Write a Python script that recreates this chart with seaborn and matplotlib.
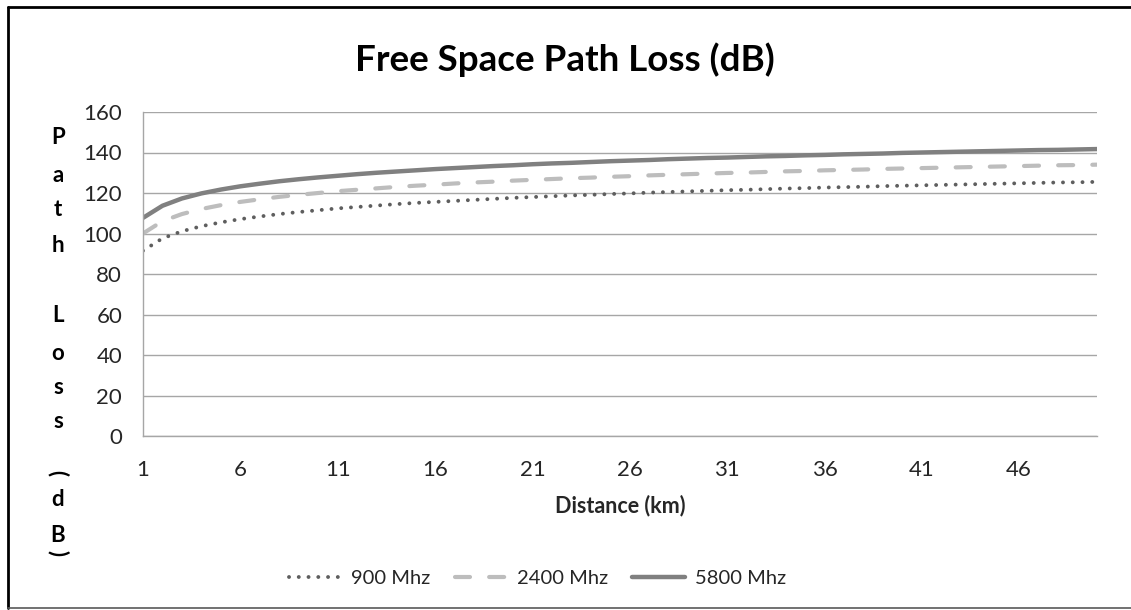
import pandas as pd
import matplotlib.pyplot as plt
import seaborn as sns
from matplotlib.lines import Line2D

# Dane (odleglosc w km, straty w dB)
distance_km = list(range(1, 51))
loss_900 = [91.5, 97.6, 101.1, 103.6, 105.5, 107.1, 108.4, 109.6, 110.6, 111.5,
            112.4, 113.1, 113.8, 114.5, 115.1, 115.6, 116.1, 116.6, 117.1, 117.6,
            118.0, 118.4, 118.8, 119.1, 119.5, 119.8, 120.2, 120.5, 120.8, 121.1,
            121.4, 121.6, 121.9, 122.2, 122.4, 122.7, 122.9, 123.1, 123.4, 123.6,
            123.8, 124.0, 124.2, 124.4, 124.6, 124.8, 125.0, 125.2, 125.3, 125.5]
loss_2400 = [100.0, 106.1, 109.6, 112.1, 114.0, 115.6, 116.9, 118.1, 119.1, 120.0,
             120.9, 121.6, 122.3, 123.0, 123.6, 124.1, 124.7, 125.2, 125.6, 126.1,
             126.5, 126.9, 127.3, 127.6, 128.0, 128.3, 128.7, 129.0, 129.3, 129.6,
             129.9, 130.1, 130.4, 130.7, 130.9, 131.2, 131.4, 131.6, 131.9, 132.1,
             132.3, 132.5, 132.7, 132.9, 133.1, 133.3, 133.5, 133.7, 133.8, 134.0]
loss_5800 = [107.7, 113.7, 117.3, 119.8, 121.7, 123.3, 124.6, 125.8, 126.8, 127.7,
             128.5, 129.3, 130.0, 130.6, 131.2, 131.8, 132.3, 132.8, 133.3, 133.7,
             134.2, 134.6, 134.9, 135.3, 135.7, 136.0, 136.3, 136.7, 137.0, 137.3,
             137.5, 137.8, 138.1, 138.3, 138.6, 138.8, 139.1, 139.3, 139.5, 139.8,
             140.0, 140.2, 140.4, 140.6, 140.8, 141.0, 141.2, 141.3, 141.5, 141.7]
series_names = ['900 Mhz', '2400 Mhz', '5800 Mhz']
x_ticks = [1, 6, 11, 16, 21, 26, 31, 36, 41, 46]
y_ticks = [0, 20, 40, 60, 80, 100, 120, 140, 160]

df = pd.DataFrame({'Distance': distance_km, '900 Mhz': loss_900,
                   '2400 Mhz': loss_2400, '5800 Mhz': loss_5800})

sns.set_style('white')
plt.rcParams['font.family'] = ['Lato', 'DejaVu Sans']

styles = {
    '900 Mhz': dict(color='#5E5E5E', lw=2.8, ls=(0, (0.01, 2.5)), cap='round'),
    '2400 Mhz': dict(color='#BDBDBD', lw=3.0, ls=(0, (3.6, 4.6)), cap='round'),
    '5800 Mhz': dict(color='#808080', lw=3.2, ls='-', cap='butt'),
}

fig = plt.figure(figsize=(11.31, 6.10), dpi=100)
ax = fig.add_axes([0.1264, 0.2852, 0.8436, 0.5312])

handles = []
for name in series_names:
    st = styles[name]
    sns.lineplot(data=df, x='Distance', y=name, ax=ax, color=st['color'],
                 linewidth=st['lw'], linestyle=st['ls'], dash_capstyle=st['cap'],
                 solid_capstyle='butt')
    handles.append(Line2D([], [], color=st['color'], lw=st['lw'], ls=st['ls'],
                          dash_capstyle=st['cap']))

ax.set_xlim(1, 50)
ax.set_ylim(0, 160)
ax.set_xticks(x_ticks)
ax.set_yticks(y_ticks)
ax.yaxis.grid(True, color='#A6A6A6', lw=1)
ax.xaxis.grid(False)
for s in ['top', 'right']:
    ax.spines[s].set_visible(False)
for s in ['left', 'bottom']:
    ax.spines[s].set_color('#A6A6A6')
    ax.spines[s].set_linewidth(1)
ax.tick_params(axis='both', colors='#A6A6A6', labelcolor='#262626',
               labelsize=16, direction='out', length=6, width=1)
ax.tick_params(axis='y', pad=9)
ax.tick_params(axis='x', pad=11)
ax.set_xlabel('Distance (km)', fontsize=15.5, fontweight='bold', labelpad=11)
ax.set_ylabel('')

fig.text(0.4995, 0.902, 'Free Space Path Loss (dB)', ha='center', va='center',
         fontsize=26.5, fontweight='bold', color='black')

# Pionowy opis osi Y - litery jedna pod druga
ylab_chars = ['P', 'a', 't', 'h', 'L', 'o', 's', 's', '(', 'd', 'B', ')']
ylab_ypix = [138, 175, 210, 245, 315, 353, 387, 422, 473, 499, 535, 553]
for ch, yp in zip(ylab_chars, ylab_ypix):
    rot = -90 if ch in '()' else 0
    fig.text(58 / 1131, 1 - yp / 610, ch, ha='center', va='center', rotation=rot,
             fontsize=16, fontweight='bold', color='black')

fig.legend(handles, series_names, loc='center', bbox_to_anchor=(0.475, 0.051),
           ncol=3, frameon=False, fontsize=14.5, handlelength=2.6,
           columnspacing=1.2, handletextpad=0.5)

# Ramka wykresu
fig.add_artist(Line2D([8 / 1131, 8 / 1131], [0.003, 1 - 7 / 610], color='black', lw=2,
                      transform=fig.transFigure))
fig.add_artist(Line2D([8 / 1131, 1.0], [1 - 7 / 610, 1 - 7 / 610], color='black', lw=2,
                      transform=fig.transFigure))
fig.add_artist(Line2D([8 / 1131, 1.0], [1 - 608 / 610, 1 - 608 / 610], color='#595959',
                      lw=1.2, transform=fig.transFigure))

fig.savefig('out.png', dpi=100)
